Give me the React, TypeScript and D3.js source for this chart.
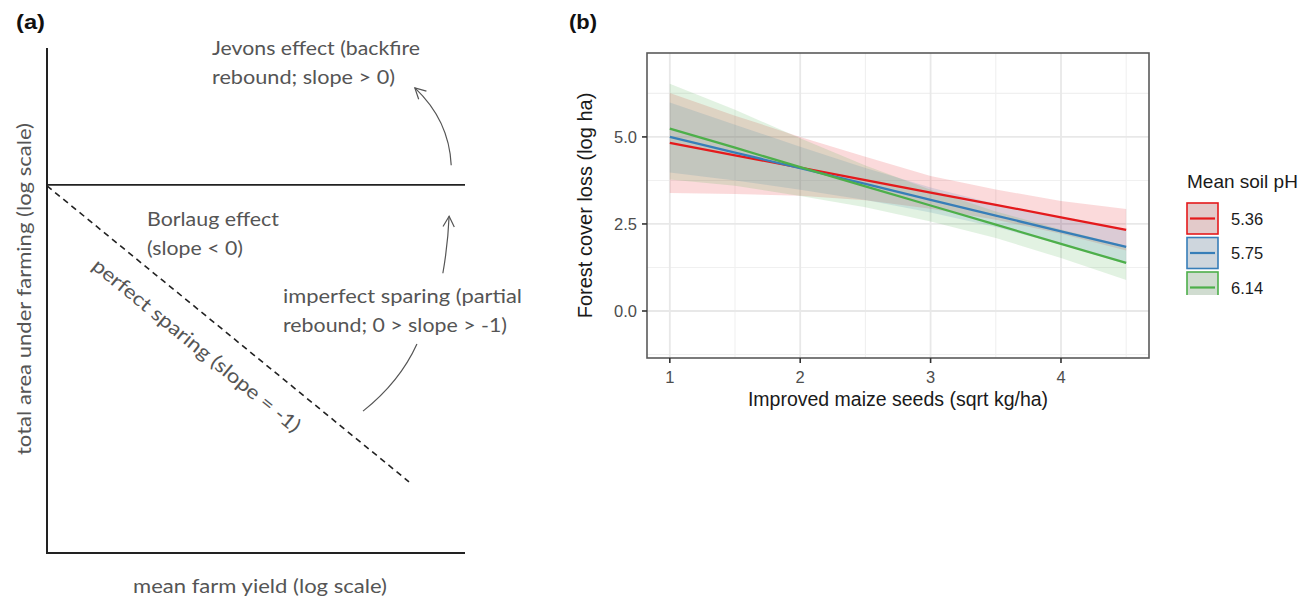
import React from "react";
import * as d3 from "d3";

// ---------- Panel (b) data ----------
const xGrid = [1, 1.5, 2, 2.5, 3, 3.5, 4, 4.5];
const groups = ["5.36", "5.75", "6.14"];
const fitRed = [4.83, 4.47, 4.12, 3.76, 3.4, 3.05, 2.69, 2.33];
const loRed = [3.39, 3.36, 3.31, 3.18, 2.94, 2.62, 2.22, 1.74];
const hiRed = [6.26, 5.61, 5.0, 4.43, 3.88, 3.49, 3.16, 2.93];
const fitBlue = [5.0, 4.55, 4.1, 3.65, 3.19, 2.74, 2.29, 1.84];
const loBlue = [3.98, 3.75, 3.48, 3.19, 2.83, 2.41, 1.91, 1.35];
const hiBlue = [5.99, 5.35, 4.72, 4.11, 3.55, 3.07, 2.67, 2.33];
const fitGreen = [5.24, 4.69, 4.13, 3.58, 3.03, 2.48, 1.93, 1.38];
const loGreen = [3.78, 3.6, 3.3, 2.98, 2.57, 2.1, 1.52, 0.89];
const hiGreen = [6.53, 5.78, 4.96, 4.18, 3.48, 2.86, 2.34, 1.87];
const xTicks = [1, 2, 3, 4];
const xMinor = [1.5, 2.5, 3.5, 4.5];
const yTicks = [0, 2.5, 5.0];
const yMinor = [-1.25, 1.25, 3.75, 6.25];
const colors = ["#E41A1C", "#377EB8", "#4DAF4A"];

// ---------- Panel (a) schematic data (unit coordinates) ----------
const axisPts: [number, number][] = [[0, 1], [0, 0], [1, 0]];
const borlaugLine: [number, number][] = [[0, 0.729], [1, 0.729]];
const sparingLine: [number, number][] = [[0, 0.727], [0.866, 0.141]];
const jevonsCurve: [number, number][] = [[0.967, 0.768], [0.962, 0.857], [0.88, 0.921]];
const reboundCurve: [number, number][] = [[0.947, 0.554], [0.959, 0.61], [0.962, 0.667]];
const imperfectCurve: [number, number][] = [[0.756, 0.281], [0.844, 0.339], [0.885, 0.414]];

const series = [
  { name: groups[0], fit: fitRed, lo: loRed, hi: hiRed, color: colors[0] },
  { name: groups[1], fit: fitBlue, lo: loBlue, hi: hiBlue, color: colors[1] },
  { name: groups[2], fit: fitGreen, lo: loGreen, hi: hiGreen, color: colors[2] },
];

export default function App() {
  // Panel (a) scales
  const xA = d3.scaleLinear().domain([0, 1]).range([47, 465]);
  const yA = d3.scaleLinear().domain([0, 1]).range([553, 48]);
  const lineA = d3.line<[number, number]>().x((d) => xA(d[0])).y((d) => yA(d[1]));
  const quad = (p: [number, number][]) => {
    const path = d3.path();
    path.moveTo(xA(p[0][0]), yA(p[0][1]));
    path.quadraticCurveTo(xA(p[1][0]), yA(p[1][1]), xA(p[2][0]), yA(p[2][1]));
    return path.toString();
  };
  const arrowHead = (p: [number, number][]) => {
    const tx = xA(p[2][0]), ty = yA(p[2][1]);
    const cx = xA(p[1][0]), cy = yA(p[1][1]);
    const ang = Math.atan2(cy - ty, cx - tx);
    const L = 12, a = (28 * Math.PI) / 180;
    const b1 = [tx + L * Math.cos(ang + a), ty + L * Math.sin(ang + a)];
    const b2 = [tx + L * Math.cos(ang - a), ty + L * Math.sin(ang - a)];
    return `M${b1[0]},${b1[1]}L${tx},${ty}L${b2[0]},${b2[1]}`;
  };

  // Panel (b) scales
  const x = d3.scaleLinear().domain([0.825, 4.675]).range([647, 1149]);
  const y = d3.scaleLinear().domain([-1.35, 7.41]).range([358, 53]);
  const [x0, x1] = x.range();
  const [y0, y1] = y.range();
  const area = (s: typeof series[0]) =>
    d3
      .area<number>()
      .x((_, i) => x(xGrid[i]))
      .y0((_, i) => y(s.lo[i]))
      .y1((_, i) => y(s.hi[i]))(s.fit) as string;
  const line = (s: typeof series[0]) =>
    d3
      .line<number>()
      .x((_, i) => x(xGrid[i]))
      .y((v) => y(v))(s.fit) as string;

  const aText = "#555555";
  const aFont = "Lato, 'Open Sans', sans-serif";
  const bFont = "'Liberation Sans', Arial, sans-serif";

  const legendX = 1187;
  const legendTop = 203;
  const keyH = 34.5;

  return (
    <svg
      width={1312}
      height={601}
      style={{ position: "absolute", left: 0, top: 0, background: "#fff" }}
    >
      <defs>
        <clipPath id="legclip">
          <rect x={1180} y={195} width={60} height={100} />
        </clipPath>
      </defs>
      <rect width={1312} height={601} fill="#fff" />

      {/* ---------------- Panel (a) ---------------- */}
      <text x={16} y={29} fontFamily={bFont} fontWeight="bold" fontSize={20} fill="#111" textLength={29} lengthAdjust="spacingAndGlyphs">
        (a)
      </text>
      <path d={lineA(axisPts) as string} fill="none" stroke="#222" strokeWidth={2} />
      <path d={lineA(borlaugLine) as string} fill="none" stroke="#222" strokeWidth={1.8} />
      <path d={lineA(sparingLine) as string} fill="none" stroke="#222" strokeWidth={1.6} strokeDasharray="6,4.5" />
      <path d={quad(jevonsCurve)} fill="none" stroke="#555" strokeWidth={1.2} />
      <path d={arrowHead(jevonsCurve)} fill="none" stroke="#555" strokeWidth={1.2} />
      <path d={quad(reboundCurve)} fill="none" stroke="#555" strokeWidth={1.2} />
      <path d={arrowHead(reboundCurve)} fill="none" stroke="#555" strokeWidth={1.2} />
      <path d={quad(imperfectCurve)} fill="none" stroke="#555" strokeWidth={1.2} />

      <g fontFamily={aFont} fontSize={19.5} fill={aText}>
        <text x={212} y={55} textLength={208} lengthAdjust="spacingAndGlyphs">Jevons effect (backfire</text>
        <text x={212} y={84} textLength={183} lengthAdjust="spacingAndGlyphs">rebound; slope &gt; 0)</text>
        <text x={147} y={226} textLength={132} lengthAdjust="spacingAndGlyphs">Borlaug effect</text>
        <text x={147} y={255} textLength={96} lengthAdjust="spacingAndGlyphs">(slope &lt; 0)</text>
        <text x={283} y={303} textLength={239} lengthAdjust="spacingAndGlyphs">imperfect sparing (partial</text>
        <text x={283} y={332} textLength={224} lengthAdjust="spacingAndGlyphs">rebound; 0 &gt; slope &gt; -1)</text>
        <text
          transform="translate(197,345) rotate(39.2)"
          textAnchor="middle"
          dominantBaseline="central"
          textLength={262}
          lengthAdjust="spacingAndGlyphs"
        >
          perfect sparing (slope = -1)
        </text>
        <text x={260} y={593} textAnchor="middle" textLength={254} lengthAdjust="spacingAndGlyphs">
          mean farm yield (log scale)
        </text>
        <text
          transform="translate(31,289) rotate(-90)"
          textAnchor="middle"
          textLength={332}
          lengthAdjust="spacingAndGlyphs"
        >
          total area under farming (log scale)
        </text>
      </g>

      {/* ---------------- Panel (b) ---------------- */}
      <text x={569} y={29} fontFamily={bFont} fontWeight="bold" fontSize={20} fill="#111" textLength={28} lengthAdjust="spacingAndGlyphs">
        (b)
      </text>
      {/* minor grid */}
      {xMinor.map((v) => (
        <line key={"xm" + v} x1={x(v)} x2={x(v)} y1={y1} y2={y0} stroke="#f0f0f0" strokeWidth={1.1} />
      ))}
      {yMinor.map((v) => (
        <line key={"ym" + v} x1={x0} x2={x1} y1={y(v)} y2={y(v)} stroke="#f0f0f0" strokeWidth={1.1} />
      ))}
      {/* major grid */}
      {xTicks.map((v) => (
        <line key={"xg" + v} x1={x(v)} x2={x(v)} y1={y1} y2={y0} stroke="#e8e8e8" strokeWidth={1.8} />
      ))}
      {yTicks.map((v) => (
        <line key={"yg" + v} x1={x0} x2={x1} y1={y(v)} y2={y(v)} stroke="#e8e8e8" strokeWidth={1.8} />
      ))}
      {/* ribbons */}
      {series.map((s) => (
        <path key={"r" + s.name} d={area(s)} fill={s.color} fillOpacity={0.16} stroke="none" />
      ))}
      {/* lines */}
      {series.map((s) => (
        <path key={"l" + s.name} d={line(s)} fill="none" stroke={s.color} strokeWidth={2.3} />
      ))}
      {/* border */}
      <rect x={x0} y={y1} width={x1 - x0} height={y0 - y1} fill="none" stroke="#5a5a5a" strokeWidth={1.6} />
      {/* ticks */}
      {xTicks.map((v) => (
        <g key={"xt" + v}>
          <line x1={x(v)} x2={x(v)} y1={y0} y2={y0 + 5} stroke="#333" strokeWidth={1.6} />
          <text x={x(v)} y={383} textAnchor="middle" fontFamily={bFont} fontSize={16.5} fill="#4d4d4d">
            {d3.format("d")(v)}
          </text>
        </g>
      ))}
      {yTicks.map((v) => (
        <g key={"yt" + v}>
          <line x1={x0 - 5} x2={x0} y1={y(v)} y2={y(v)} stroke="#333" strokeWidth={1.6} />
          <text x={637} y={y(v)} dy="0.35em" textAnchor="end" fontFamily={bFont} fontSize={16.5} fill="#4d4d4d">
            {d3.format(".1f")(v)}
          </text>
        </g>
      ))}
      <text x={(x0 + x1) / 2} y={406} textAnchor="middle" fontFamily={bFont} fontSize={19.5} fill="#1a1a1a">
        Improved maize seeds (sqrt kg/ha)
      </text>
      <text
        transform={`translate(592,${(y0 + y1) / 2}) rotate(-90)`}
        textAnchor="middle"
        fontFamily={bFont}
        fontSize={20}
        fill="#1a1a1a"
      >
        Forest cover loss (log ha)
      </text>

      {/* legend */}
      <text x={legendX} y={188} fontFamily={bFont} fontSize={19} fill="#1a1a1a">
        Mean soil pH
      </text>
      <g clipPath="url(#legclip)">
        {series.map((s, i) => {
          const ty = legendTop + i * keyH;
          return (
            <g key={"k" + s.name}>
              <rect x={legendX} y={ty} width={31} height={31} fill="#e3e3e3" />
              <rect x={legendX} y={ty} width={31} height={31} fill={s.color} fillOpacity={0.12} stroke={s.color} strokeWidth={1.6} />
              <line x1={legendX + 3} x2={legendX + 28} y1={ty + 15.5} y2={ty + 15.5} stroke={s.color} strokeWidth={2.2} />
            </g>
          );
        })}
      </g>
      {series.map((s, i) => (
        <text key={"kt" + s.name} x={1231} y={legendTop + i * keyH + 15.5} dy="0.38em" fontFamily={bFont} fontSize={16.5} fill="#1a1a1a">
          {s.name}
        </text>
      ))}
    </svg>
  );
}
